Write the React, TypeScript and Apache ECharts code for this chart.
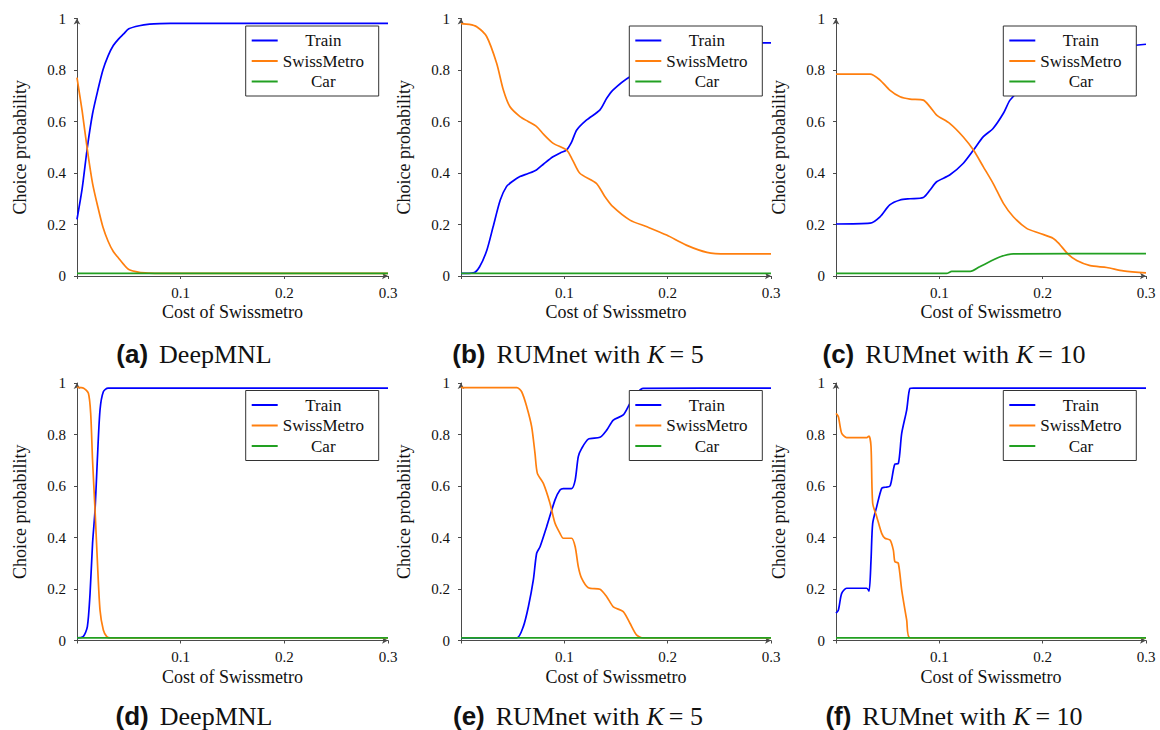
import React, { useEffect, useRef } from "react";
import * as echarts from "echarts";

type Pt = [number, number];

// ---------- data (x = cost of Swissmetro, y = choice probability) ----------
const seriesNames = ["Train", "SwissMetro", "Car"];
const seriesColors = ["#0000ff", "#ff7f0e", "#22a022"];

const xTickLabels = ["0.1", "0.2", "0.3"];
const yTickLabels = ["0", "0.2", "0.4", "0.6", "0.8", "1"];

// (a) DeepMNL (top)
const aTrain: Pt[] = [[0, 0.22], [0.005, 0.34], [0.01, 0.5], [0.015, 0.63], [0.02, 0.72], [0.025, 0.8], [0.03, 0.855], [0.035, 0.895], [0.04, 0.92], [0.045, 0.94], [0.05, 0.96], [0.06, 0.972], [0.07, 0.978], [0.08, 0.98], [0.1, 0.981], [0.3, 0.981]];
const aSwiss: Pt[] = [[0, 0.77], [0.005, 0.64], [0.01, 0.49], [0.015, 0.36], [0.02, 0.27], [0.025, 0.19], [0.03, 0.135], [0.035, 0.095], [0.04, 0.07], [0.045, 0.045], [0.05, 0.025], [0.06, 0.014], [0.07, 0.011], [0.08, 0.01], [0.3, 0.01]];
const aCar: Pt[] = [[0, 0.01], [0.3, 0.01]];

// (b) RUMnet K=5 (top)
const bTrain: Pt[] = [[0, 0.01], [0.012, 0.012], [0.018, 0.036], [0.025, 0.1], [0.031, 0.19], [0.038, 0.295], [0.044, 0.347], [0.05, 0.368], [0.057, 0.386], [0.065, 0.398], [0.073, 0.412], [0.08, 0.435], [0.089, 0.463], [0.096, 0.478], [0.102, 0.489], [0.107, 0.52], [0.112, 0.567], [0.1216, 0.606], [0.1345, 0.645], [0.141, 0.69], [0.147, 0.722], [0.1635, 0.774], [0.18, 0.8], [0.2, 0.835], [0.22, 0.868], [0.24, 0.892], [0.26, 0.903], [0.3, 0.905]];
const bSwiss: Pt[] = [[0, 0.98], [0.008, 0.977], [0.0152, 0.968], [0.0248, 0.93], [0.0345, 0.826], [0.041, 0.722], [0.0474, 0.657], [0.0571, 0.619], [0.065, 0.6], [0.0732, 0.58], [0.08, 0.55], [0.0893, 0.515], [0.1023, 0.489], [0.108, 0.45], [0.115, 0.399], [0.131, 0.36], [0.139, 0.31], [0.147, 0.269], [0.1635, 0.217], [0.18, 0.191], [0.199, 0.159], [0.218, 0.12], [0.238, 0.092], [0.257, 0.086], [0.3, 0.086]];
const bCar: Pt[] = [[0, 0.01], [0.3, 0.01]];

// (c) RUMnet K=10 (top)
const cTrain: Pt[] = [[0, 0.202], [0.033, 0.205], [0.0426, 0.23], [0.052, 0.276], [0.062, 0.295], [0.0716, 0.3], [0.0845, 0.305], [0.091, 0.334], [0.0974, 0.366], [0.11, 0.392], [0.123, 0.437], [0.133, 0.489], [0.1426, 0.541], [0.152, 0.573], [0.162, 0.632], [0.1684, 0.683], [0.176, 0.712], [0.1845, 0.72], [0.197, 0.74], [0.21, 0.76], [0.22, 0.815], [0.233, 0.85], [0.246, 0.87], [0.262, 0.876], [0.278, 0.89], [0.3, 0.9]];
const cSwiss: Pt[] = [[0, 0.784], [0.033, 0.784], [0.0426, 0.761], [0.052, 0.722], [0.062, 0.696], [0.0716, 0.687], [0.0845, 0.683], [0.091, 0.657], [0.0974, 0.625], [0.11, 0.593], [0.123, 0.541], [0.133, 0.489], [0.1426, 0.424], [0.152, 0.36], [0.162, 0.282], [0.1716, 0.23], [0.1845, 0.185], [0.197, 0.166], [0.2103, 0.146], [0.216, 0.125], [0.2245, 0.085], [0.233, 0.06], [0.246, 0.04], [0.262, 0.033], [0.278, 0.02], [0.3, 0.012]];
const cCar: Pt[] = [[0, 0.01], [0.107, 0.01], [0.112, 0.018], [0.13, 0.018], [0.139, 0.036], [0.149, 0.056], [0.159, 0.075], [0.1716, 0.086], [0.3, 0.087]];

// (d) DeepMNL (bottom)
const dTrain: Pt[] = [[0, 0.01], [0.006, 0.015], [0.01, 0.054], [0.0126, 0.183], [0.015, 0.377], [0.0174, 0.507], [0.0196, 0.7], [0.0222, 0.895], [0.0254, 0.966], [0.03, 0.98], [0.3, 0.98]];
const dSwiss: Pt[] = [[0, 0.983], [0.0064, 0.98], [0.011, 0.96], [0.0132, 0.882], [0.015, 0.7], [0.0174, 0.507], [0.0196, 0.313], [0.0222, 0.118], [0.0254, 0.041], [0.0287, 0.015], [0.032, 0.01], [0.3, 0.01]];
const dCar: Pt[] = [[0, 0.01], [0.3, 0.01]];

// (e) RUMnet K=5 (bottom)
const eTrain: Pt[] = [[0, 0.01], [0.054, 0.01], [0.0603, 0.054], [0.0652, 0.131], [0.07, 0.235], [0.0732, 0.339], [0.0765, 0.364], [0.0829, 0.442], [0.091, 0.546], [0.0958, 0.584], [0.099, 0.59], [0.107, 0.59], [0.1105, 0.623], [0.1135, 0.714], [0.1168, 0.746], [0.1232, 0.782], [0.1345, 0.789], [0.141, 0.817], [0.1474, 0.856], [0.157, 0.876], [0.1635, 0.921], [0.17, 0.96], [0.1764, 0.979], [0.3, 0.98]];
const eSwiss: Pt[] = [[0, 0.982], [0.054, 0.982], [0.0587, 0.966], [0.0636, 0.908], [0.0684, 0.83], [0.0716, 0.727], [0.0739, 0.649], [0.0797, 0.61], [0.0861, 0.533], [0.091, 0.455], [0.0958, 0.416], [0.099, 0.397], [0.107, 0.397], [0.1105, 0.364], [0.1135, 0.287], [0.1168, 0.241], [0.1232, 0.205], [0.1345, 0.199], [0.141, 0.17], [0.1474, 0.131], [0.157, 0.112], [0.1635, 0.067], [0.17, 0.021], [0.1764, 0.01], [0.3, 0.01]];
const eCar: Pt[] = [[0, 0.01], [0.3, 0.01]];

// (f) RUMnet K=10 (bottom)
const fTrain: Pt[] = [[0, 0.106], [0.0023, 0.118], [0.0055, 0.183], [0.0103, 0.203], [0.0297, 0.203], [0.032, 0.192], [0.0339, 0.313], [0.0355, 0.455], [0.0394, 0.52], [0.0442, 0.591], [0.0474, 0.595], [0.0523, 0.6], [0.0555, 0.662], [0.057, 0.685], [0.0603, 0.687], [0.0636, 0.805], [0.0684, 0.895], [0.0716, 0.979], [0.075, 0.98], [0.3, 0.98]];
const fSwiss: Pt[] = [[0, 0.882], [0.0023, 0.869], [0.0055, 0.805], [0.0103, 0.788], [0.0297, 0.788], [0.032, 0.794], [0.0339, 0.753], [0.0355, 0.533], [0.0394, 0.481], [0.0442, 0.416], [0.0474, 0.397], [0.0523, 0.39], [0.0555, 0.351], [0.057, 0.306], [0.0603, 0.3], [0.0636, 0.196], [0.0684, 0.08], [0.0716, 0.01], [0.3, 0.01]];
const fCar: Pt[] = [[0, 0.01], [0.3, 0.01]];

const panelData: Pt[][][] = [
  [aTrain, aSwiss, aCar],
  [bTrain, bSwiss, bCar],
  [cTrain, cSwiss, cCar],
  [dTrain, dSwiss, dCar],
  [eTrain, eSwiss, eCar],
  [fTrain, fSwiss, fCar],
];

const captionLetters = ["(a)", "(b)", "(c)", "(d)", "(e)", "(f)"];
const captionModels = ["DeepMNL", "RUMnet with", "RUMnet with", "DeepMNL", "RUMnet with", "RUMnet with"];
const captionK = ["", "5", "10", "", "5", "10"];

const xAxisTitle = "Cost of Swissmetro";
const yAxisTitle = "Choice probability";

// ---------- layout ----------
const colLeft = [77, 461, 836];
const colWidth = [311, 310, 310];
const rowTop = [18.5, 383];
const plotHeight = 257.5;
const legendLeft = [245.7, 629.3, 1003.3];
const legendTopOffset = 7.5;
const legendBoxWidth = 133;
const captionX = [194, 578, 954];
const captionY = [354, 716];

const SERIF = "Liberation Serif";
const SANS = "Liberation Sans";
const AXIS_COLOR = "#4a4a4a";
const TEXT_COLOR = "#111111";
const LEGEND_FONT = 17;
const CAPTION_FONT = 26;

// force the serif face on every SVG text; bold caption letters stay sans
const FONT_CSS = `
#swiss-chart svg text { font-family: "${SERIF}", "Times New Roman", serif !important; }
#swiss-chart svg text[style*="bold"] { font-family: "${SANS}", Arial, sans-serif !important; }
`;

function fmt(v: number): string {
  return String(+v.toFixed(1));
}

function buildOption(): any {
  const ctx = document.createElement("canvas").getContext("2d")!;
  const measure = (text: string, font: string) => {
    ctx.font = font;
    return ctx.measureText(text).width;
  };

  const legendFont = `${LEGEND_FONT}px "${SERIF}"`;
  const nameW = seriesNames.map((n) => measure(n, legendFont));
  const maxW = Math.max(...nameW);
  const rightPad = Math.max(4, legendBoxWidth - 6 - 26 - 5 - maxW);

  const grids: any[] = [];
  const xAxes: any[] = [];
  const yAxes: any[] = [];
  const legends: any[] = [];
  const series: any[] = [];
  const graphics: any[] = [];

  for (let p = 0; p < 6; p++) {
    const col = p % 3;
    const row = Math.floor(p / 3);
    grids.push({ left: colLeft[col], top: rowTop[row], width: colWidth[col], height: plotHeight });
    xAxes.push({
      type: "value",
      gridIndex: p,
      min: 0,
      max: 0.3,
      interval: 0.1,
      name: xAxisTitle,
      nameLocation: "middle",
      nameGap: 27,
      nameTextStyle: { fontFamily: SERIF, fontSize: 18, color: TEXT_COLOR },
      axisLine: {
        show: true,
        onZero: false,
        lineStyle: { color: AXIS_COLOR, width: 1 },
        symbol: ["none", "arrow"],
        symbolSize: [5, 6],
      },
      axisTick: { show: true, length: 3, lineStyle: { color: AXIS_COLOR } },
      axisLabel: {
        fontFamily: SERIF,
        fontSize: 15,
        color: TEXT_COLOR,
        margin: 9,
        formatter: (v: number) => (v === 0 ? "" : xTickLabels.indexOf(fmt(v)) >= 0 ? fmt(v) : ""),
      },
      splitLine: { show: false },
    });
    yAxes.push({
      type: "value",
      gridIndex: p,
      min: 0,
      max: 1,
      interval: 0.2,
      name: yAxisTitle,
      nameLocation: "middle",
      nameGap: 48,
      nameTextStyle: { fontFamily: SERIF, fontSize: 18, color: TEXT_COLOR },
      axisLine: {
        show: true,
        onZero: false,
        lineStyle: { color: AXIS_COLOR, width: 1 },
        symbol: ["none", "arrow"],
        symbolSize: [5, 6],
      },
      axisTick: { show: true, length: 3, lineStyle: { color: AXIS_COLOR } },
      axisLabel: {
        fontFamily: SERIF,
        fontSize: 15,
        color: TEXT_COLOR,
        margin: 11,
        formatter: (v: number) => (yTickLabels.indexOf(fmt(v)) >= 0 ? fmt(v) : ""),
      },
      splitLine: { show: false },
    });
    legends.push({
      show: true,
      orient: "vertical",
      left: legendLeft[col],
      top: rowTop[row] + legendTopOffset,
      data: seriesNames.map((n, i) => {
        const pad = Math.max(0, (maxW - nameW[i]) / 2);
        return {
          name: n,
          textStyle: { fontFamily: SERIF, fontSize: LEGEND_FONT, color: TEXT_COLOR, padding: [0, pad, 0, pad] },
        };
      }),
      icon: "rect",
      backgroundColor: "#ffffff",
      borderColor: "#333333",
      borderWidth: 1,
      borderRadius: 0,
      padding: [6, rightPad, 6, 6],
      itemWidth: 26,
      itemHeight: 2,
      itemGap: 3.5,
      selectedMode: false,
      textStyle: { fontFamily: SERIF, fontSize: LEGEND_FONT, color: TEXT_COLOR },
    });
    for (let s = 0; s < 3; s++) {
      series.push({
        type: "line",
        name: seriesNames[s],
        xAxisIndex: p,
        yAxisIndex: p,
        data: panelData[p][s],
        showSymbol: false,
        symbol: "none",
        smooth: 0.25,
        lineStyle: { color: seriesColors[s], width: 1.7 },
        itemStyle: { color: seriesColors[s] },
      });
    }

    const parts: { text: string; family: string; weight: string; style: string; gapAfter: number }[] = [
      { text: captionLetters[p], family: SANS, weight: "bold", style: "normal", gapAfter: 11 },
      { text: captionModels[p], family: SERIF, weight: "normal", style: "normal", gapAfter: captionK[p] ? 7 : 0 },
    ];
    if (captionK[p]) {
      parts.push({ text: "K", family: SERIF, weight: "normal", style: "italic", gapAfter: 5 });
      parts.push({ text: "= " + captionK[p], family: SERIF, weight: "normal", style: "normal", gapAfter: 0 });
    }
    const widths = parts.map((pt) => measure(pt.text, `${pt.style} ${pt.weight} ${CAPTION_FONT}px "${pt.family}"`));
    const total = widths.reduce((a, w, i) => a + w + parts[i].gapAfter, 0);
    let cx = captionX[col] - total / 2;
    parts.forEach((pt, i) => {
      graphics.push({
        type: "text",
        x: cx,
        y: captionY[row],
        style: {
          text: pt.text,
          fontFamily: pt.family,
          fontWeight: pt.weight,
          fontStyle: pt.style,
          fontSize: CAPTION_FONT,
          fill: TEXT_COLOR,
          align: "left",
          verticalAlign: "middle",
        },
      });
      cx += widths[i] + pt.gapAfter;
    });
  }

  return {
    animation: false,
    grid: grids,
    xAxis: xAxes,
    yAxis: yAxes,
    legend: legends,
    series,
    graphic: graphics,
  };
}

export default function App() {
  const ref = useRef<HTMLDivElement>(null);

  useEffect(() => {
    if (!ref.current) return;
    const chart = echarts.init(ref.current, undefined, { renderer: "svg" });
    chart.setOption(buildOption());
    return () => {
      chart.dispose();
    };
  }, []);

  return (
    <>
      <style>{FONT_CSS}</style>
      <div
        id="swiss-chart"
        ref={ref}
        style={{ position: "fixed", left: 0, top: 0, width: 1160, height: 730, background: "#fff" }}
      />
    </>
  );
}
